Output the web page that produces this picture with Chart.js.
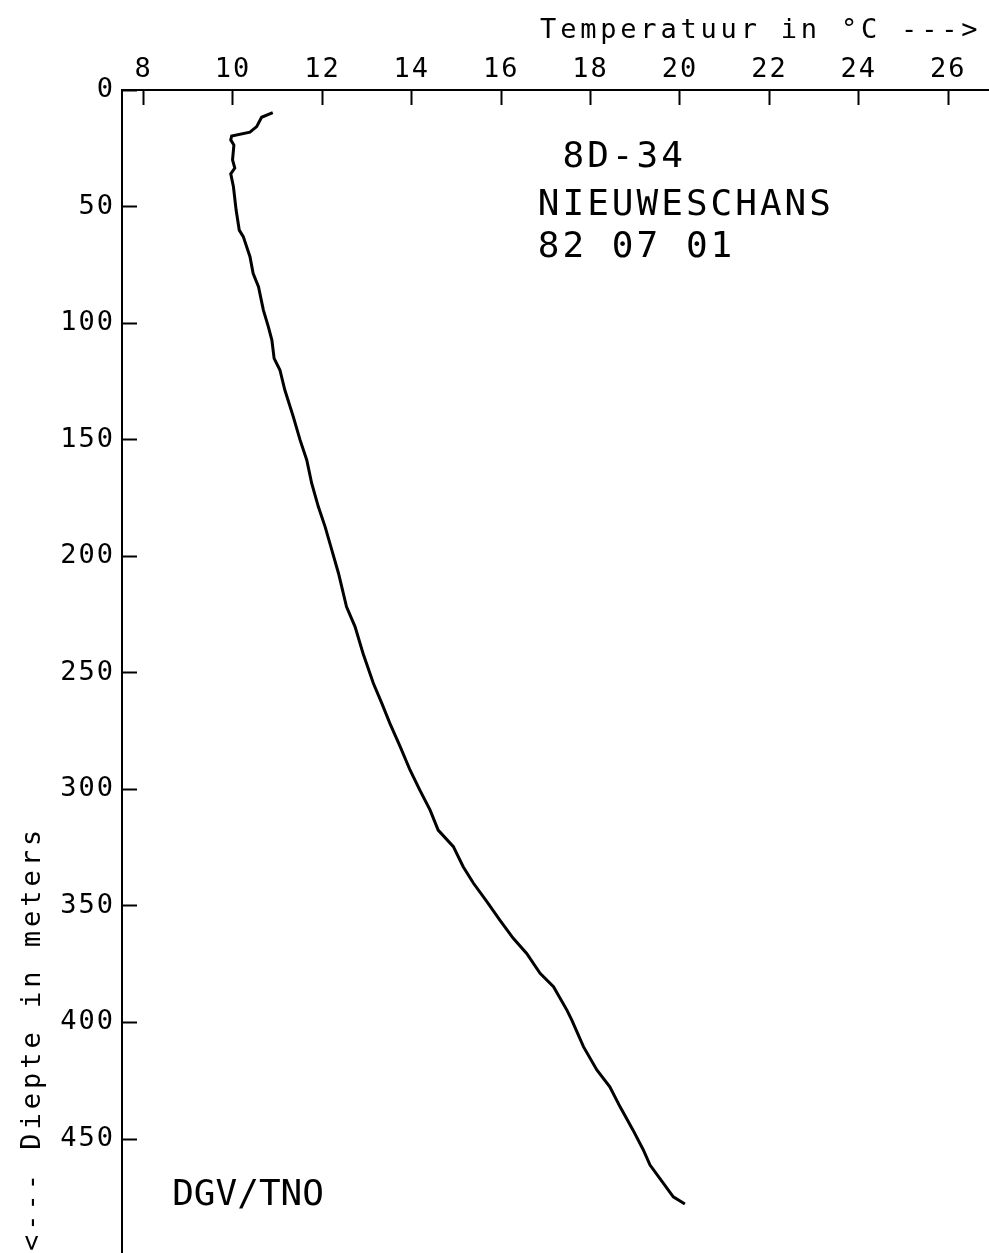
<!DOCTYPE html>
<html lang="nl">
<head>
    <meta charset="UTF-8">
    <title>8D-34 Nieuweschans</title>
    <style>
        body { margin: 0; background: #ffffff; }
        #wrap { width: 989px; height: 1253px; position: relative; }
    </style>
</head>
<body>
    <div id="wrap"><canvas id="profiel"></canvas></div>

    <script src="https://cdn.jsdelivr.net/npm/chart.js"></script>
    <script>
        const temps = [10.89, 10.64, 10.53, 10.38, 9.97, 9.95, 10.02, 9.99, 10.04, 9.95,
            10.01, 10.07, 10.14, 10.23, 10.38, 10.45, 10.57, 10.68, 10.79, 10.87,
            10.92, 11.05, 11.16, 11.35, 11.50, 11.65, 11.76, 11.91, 12.06, 12.21,
            12.36, 12.54, 12.73, 12.91, 13.14, 13.33, 13.51, 13.74, 13.96, 14.18,
            14.41, 14.59, 14.93, 15.15, 15.38, 15.68, 15.97, 16.27, 16.57, 16.87,
            17.17, 17.47, 17.58, 17.84, 18.14, 18.43, 18.66, 18.95, 19.18, 19.33,
            19.63, 19.85, 20.11];
        const depths = [9.7, 11.7, 15.7, 18.1, 19.7, 21.4, 23.6, 30.0, 33.5, 36.0,
            41.5, 51.5, 60.1, 62.9, 71.5, 78.6, 84.4, 94.4, 101.5, 107.3,
            115.1, 120.1, 128.7, 140.2, 150.1, 158.7, 168.7, 178.8, 187.3, 197.3,
            207.3, 221.7, 230.2, 241.7, 254.5, 263.1, 271.7, 281.7, 291.7, 300.3,
            308.9, 317.5, 324.6, 333.2, 340.3, 348.2, 356.1, 363.9, 370.4, 378.9,
            384.7, 394.7, 399.0, 410.4, 420.4, 427.6, 436.2, 446.2, 454.7, 461.2,
            469.0, 474.8, 477.9];

        const tempTicks = [8, 10, 12, 14, 16, 18, 20, 22, 24, 26];
        const depthTicks = [0, 50, 100, 150, 200, 250, 300, 350, 400, 450];

        const xTitle = 'Temperatuur in °C --->';
        const yTitle = '<--- Diepte in meters';
        const headerLines = [' 8D-34', 'NIEUWESCHANS', '82 07 01'];
        const footerText = 'DGV/TNO';

        const MONO = "'DejaVu Sans Mono', monospace";
        Chart.defaults.font.family = MONO;
        Chart.defaults.color = '#000';

        // astitels en losse tekst zelf tekenen (met letterafstand zoals de plotter)
        const tekstPlugin = {
            id: 'tekst',
            beforeDraw(chart) {
                chart.ctx.letterSpacing = '2px';
            },
            afterDraw(chart) {
                const { ctx, scales, chartArea } = chart;
                ctx.save();
                ctx.fillStyle = '#000';

                // x-titel boven de as
                ctx.font = '27px ' + MONO;
                ctx.letterSpacing = '3.8px';
                ctx.textAlign = 'left';
                ctx.textBaseline = 'alphabetic';
                ctx.fillText(xTitle, scales.x.getPixelForValue(16.87), chartArea.top - 52);

                // y-titel, van onder naar boven
                ctx.save();
                ctx.translate(33, chartArea.bottom - 2);
                ctx.rotate(-Math.PI / 2);
                ctx.letterSpacing = '4px';
                ctx.textBaseline = 'middle';
                ctx.fillText(yTitle, 0, 0);
                ctx.restore();

                // putnaam, plaats en datum
                ctx.font = '36px ' + MONO;
                ctx.letterSpacing = '3px';
                const x0 = scales.x.getPixelForValue(16.82);
                const regels = [33.0, 53.6, 71.6];
                headerLines.forEach((t, i) => {
                    ctx.fillText(t, x0, scales.y.getPixelForValue(regels[i]));
                });
                ctx.letterSpacing = '0px';
                ctx.fillText(footerText, scales.x.getPixelForValue(8.64), scales.y.getPixelForValue(478.3));
                ctx.restore();
            }
        };

        const ctx = document.getElementById('profiel').getContext('2d');
        new Chart(ctx, {
            type: 'scatter',
            data: {
                datasets: [{
                    data: temps.map((t, i) => ({ x: t, y: depths[i] })),
                    showLine: true,
                    borderColor: '#000',
                    borderWidth: 3,
                    pointRadius: 0,
                    tension: 0
                }]
            },
            options: {
                responsive: true,
                maintainAspectRatio: false,
                animation: false,
                layout: { padding: 0 },
                plugins: { legend: { display: false }, tooltip: { enabled: false } },
                scales: {
                    x: {
                        position: 'top',
                        min: 7.517,
                        max: 26.913,
                        afterBuildTicks: s => { s.ticks = tempTicks.map(v => ({ value: v })); },
                        afterFit: s => {
                            s.height = 90;
                            s.paddingLeft = 0; s.paddingRight = 0;
                            s.paddingTop = 0; s.paddingBottom = 0;
                        },
                        grid: { drawOnChartArea: false, tickLength: -15, tickWidth: 2, tickColor: '#000' },
                        border: { display: true, color: '#000', width: 2 },
                        ticks: { padding: 19, font: { size: 27 }, maxRotation: 0, autoSkip: false }
                    },
                    y: {
                        reverse: true,
                        min: 0,
                        max: 498.9,
                        afterBuildTicks: s => { s.ticks = depthTicks.map(v => ({ value: v })); },
                        afterFit: s => {
                            s.width = 122;
                            s.paddingLeft = 0; s.paddingRight = 0;
                            s.paddingTop = 0; s.paddingBottom = 0;
                        },
                        grid: { drawOnChartArea: false, tickLength: -15, tickWidth: 2, tickColor: '#000' },
                        border: { display: true, color: '#000', width: 2 },
                        ticks: { padding: 22, font: { size: 27 }, autoSkip: false }
                    }
                }
            },
            plugins: [tekstPlugin]
        });
    </script>
</body>
</html>
